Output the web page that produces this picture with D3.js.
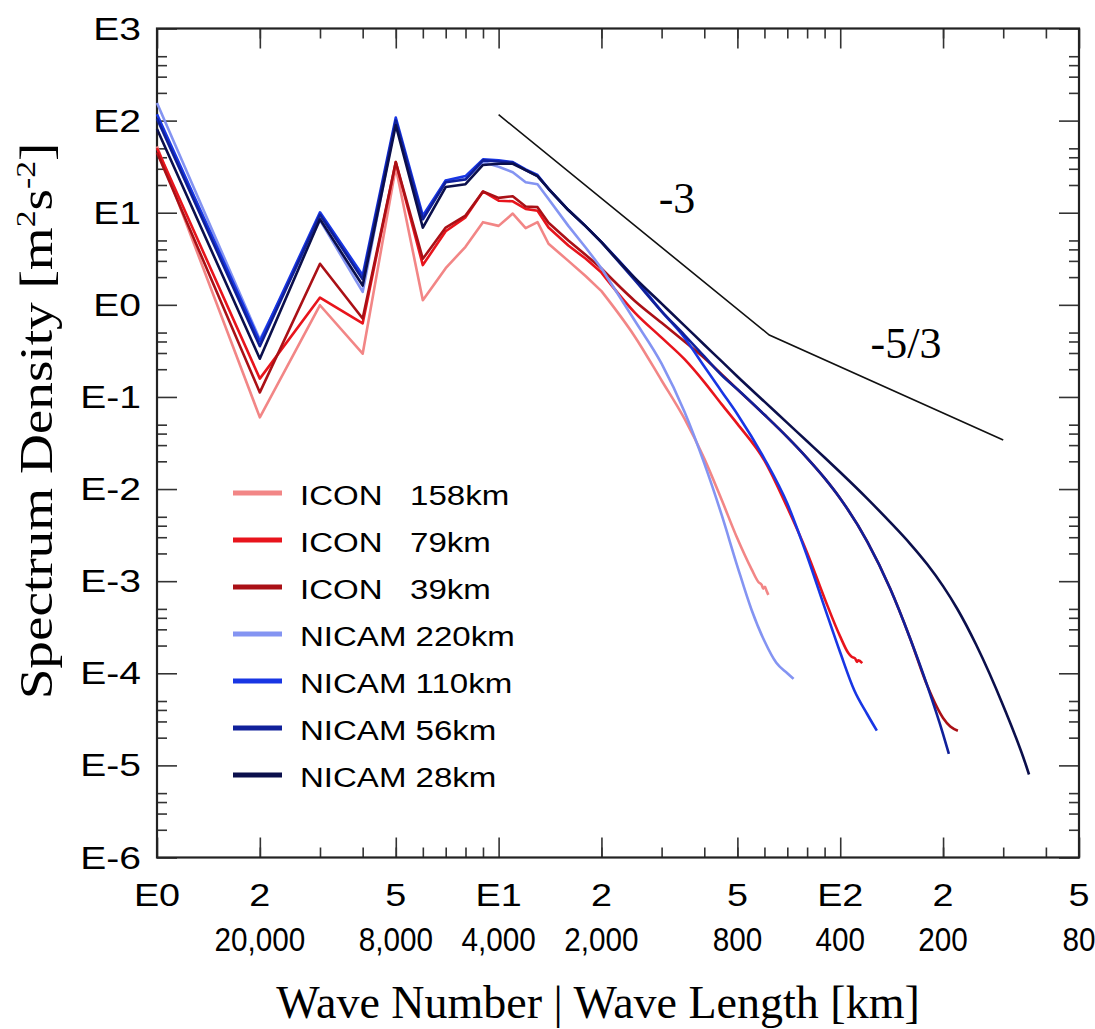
<!DOCTYPE html>
<html><head><meta charset="utf-8">
<script src="https://cdn.jsdelivr.net/npm/d3@7"></script>
<style>body{margin:0;background:#fff}</style>
</head><body>
<svg id="c" width="1095" height="1029"></svg>
<script>
// ---- data: [wave number, spectrum density] ----
const icon158 = [[1,52.5],[2,0.060],[3,0.99],[4,0.295],[5,31],[6,1.12],[7,2.5],[8,4.27],[9,7.9],[10,7.2],[11,9.8],[12,6.8],[13,7.9],[14,4.6],[16,3.0],[18,2.04],[20,1.41],[25,0.457],[30,0.151],[35,0.058],[40,0.0214],[45,0.0076],[50,0.0029],[55,0.00135],[57.6,0.00098],[58.9,0.00091],[59.5,0.00083],[60.2,0.00087],[60.9,0.00078],[61.6,0.00071]];
const icon79 = [[1,50],[2,0.158],[3,1.2],[4,0.63],[5,35.5],[6,2.7],[7,6.3],[8,8.9],[9,17],[10,13.5],[11,13.3],[12,11],[13,10.5],[14,6.9],[16,4.4],[18,3.16],[20,2.24],[25,0.83],[30,0.44],[35,0.257],[40,0.145],[45,0.083],[50,0.051],[60,0.0204],[70,0.0063],[80,0.00204],[90,0.00065],[100,0.00025],[105.6,0.000166],[108,0.000151],[110.5,0.000145],[112,0.000133],[113,0.000138],[116,0.000129]];
const icon39 = [[1,45],[2,0.112],[3,2.79],[4,0.71],[5,35.5],[6,3.16],[7,6.9],[8,9.3],[9,17],[10,14.5],[11,15.1],[12,11.7],[13,11.5],[14,7.8],[16,5.0],[18,3.47],[20,2.48],[25,1.11],[30,0.638],[35,0.399],[40,0.265],[45,0.176],[50,0.121],[60,0.064],[70,0.0366],[80,0.0217],[90,0.01315],[100,0.00791],[120,0.00269],[140,0.000832],[160,0.000242],[180,0.0000726],[200,0.0000327],[210,0.0000264],[221,0.0000238]];
const nicam220 = [[1,155],[2,0.42],[3,8.3],[4,1.38],[5,100],[6,8.5],[7,22.4],[8,23.4],[9,35.5],[10,31.6],[11,27.5],[12,21.4],[13,20.4],[14,14.1],[16,7.2],[18,4.17],[20,2.5],[25,0.68],[30,0.23],[35,0.069],[40,0.019],[45,0.0052],[50,0.00145],[55,0.00049],[60,0.000224],[65,0.00013],[70,0.0001],[73,0.000087]];
const nicam110 = [[1,117],[2,0.40],[3,10.1],[4,2.1],[5,108],[6,9.3],[7,22.4],[8,25],[9,38],[10,37],[11,35.5],[12,29.5],[13,25.7],[14,18.2],[16,10.7],[18,7.1],[20,4.8],[25,1.95],[30,0.85],[35,0.44],[40,0.214],[45,0.114],[50,0.065],[60,0.0213],[70,0.00695],[80,0.001875],[90,0.00052],[100,0.000168],[110,0.000065],[120,0.0000359],[128,0.0000238]];
const nicam56 = [[1,105],[2,0.355],[3,9.5],[4,1.9],[5,100],[6,8.5],[7,21.4],[8,22.9],[9,37],[10,36],[11,35],[12,29],[13,25],[14,18.2],[16,10.7],[18,7.1],[20,4.8],[25,1.86],[30,0.85],[35,0.47],[40,0.275],[45,0.172],[50,0.121],[60,0.064],[70,0.0366],[80,0.0217],[90,0.01315],[100,0.00791],[120,0.00269],[140,0.000832],[160,0.000242],[180,0.0000726],[200,0.0000219],[208,0.0000133]];
const nicam28 = [[1,81],[2,0.26],[3,8.5],[4,1.62],[5,89],[6,6.9],[7,19],[8,20.4],[9,33],[10,34],[11,34],[12,29],[13,25],[14,18.2],[16,10.7],[18,7.1],[20,4.8],[25,1.97],[30,1.03],[35,0.595],[40,0.369],[45,0.243],[50,0.1667],[60,0.0889],[70,0.0523],[80,0.033],[90,0.022],[100,0.0152],[120,0.00787],[140,0.00437],[160,0.00256],[180,0.001514],[200,0.000883],[220,0.000502],[250,0.000204],[300,0.0000444],[350,0.00000997],[357,0.00000796]];
const slopeLine = [[10,116],[62,0.47],[300,0.034]];

const seriesNames = ["ICON   158km","ICON   79km","ICON   39km","NICAM 220km","NICAM 110km","NICAM 56km","NICAM 28km"];
const seriesData = [icon158, icon79, icon39, nicam220, nicam110, nicam56, nicam28];
const seriesColors = ["#f28686","#e8141c","#aa1016","#8494f2","#1836e4","#10209a","#0b0f4c"];

const xTickValues = [1,2,5,10,20,50,100,200,500];
const xTickLabels = ["E0","2","5","E1","2","5","E2","2","5"];
const waveLengthTicks = [2,5,10,20,50,100,200,500];
const waveLengthLabels = ["20,000","8,000","4,000","2,000","800","400","200","80"];
const yTickValues = [1e3,1e2,1e1,1e0,1e-1,1e-2,1e-3,1e-4,1e-5,1e-6];
const yTickLabels = ["E3","E2","E1","E0","E-1","E-2","E-3","E-4","E-5","E-6"];

// ---- layout ----
const L = 157, R = 1079, T = 28.5, B = 857.5;
const svg = d3.select("#c");
const x = d3.scaleLog().domain([1,500]).range([L,R]);
const y = d3.scaleLog().domain([1e-6,1e3]).range([B,T]);
const sans = "'Liberation Sans', Arial, sans-serif";
const serif = "'Liberation Serif', 'Times New Roman', serif";

function label(px, py, str, size, family, anchor, sx){
  const g = svg.append("g").attr("transform",`translate(${px},${py}) scale(${sx},1)`);
  return g.append("text").attr("x",0).attr("y",0).attr("text-anchor",anchor)
    .attr("font-family",family).attr("font-size",size).attr("fill","#000")
    .style("white-space","pre").text(str);
}

// minor tick positions
const xMinor = [], yMinor = [];
[1,10,100].forEach(d=>{ for(let m=2;m<=9;m++){ if(d*m<500) xMinor.push(d*m);} });
[1e-6,1e-5,1e-4,1e-3,1e-2,1e-1,1,10,100].forEach(d=>{ for(let m=2;m<=5;m++) yMinor.push(d*m); });

// axes via d3 axis generators (inward ticks on all four sides)
const tc = "#333";
function styleAxis(g){ g.select(".domain").remove(); g.selectAll("line").attr("stroke",tc).attr("stroke-width",1.6); g.selectAll("text").remove(); }
svg.append("g").attr("transform",`translate(0,${B})`).call(d3.axisTop(x).tickValues(xTickValues).tickSize(20)).call(styleAxis);
svg.append("g").attr("transform",`translate(0,${B})`).call(d3.axisTop(x).tickValues(xMinor).tickSize(10)).call(styleAxis);
svg.append("g").attr("transform",`translate(0,${T})`).call(d3.axisBottom(x).tickValues(xTickValues).tickSize(20)).call(styleAxis);
svg.append("g").attr("transform",`translate(0,${T})`).call(d3.axisBottom(x).tickValues(xMinor).tickSize(10)).call(styleAxis);
svg.append("g").attr("transform",`translate(${L},0)`).call(d3.axisRight(y).tickValues(yTickValues).tickSize(20)).call(styleAxis);
svg.append("g").attr("transform",`translate(${L},0)`).call(d3.axisRight(y).tickValues(yMinor).tickSize(10)).call(styleAxis);
svg.append("g").attr("transform",`translate(${R},0)`).call(d3.axisLeft(y).tickValues(yTickValues).tickSize(20)).call(styleAxis);
svg.append("g").attr("transform",`translate(${R},0)`).call(d3.axisLeft(y).tickValues(yMinor).tickSize(10)).call(styleAxis);

// frame
svg.append("rect").attr("x",L).attr("y",T).attr("width",R-L).attr("height",B-T)
  .attr("fill","none").attr("stroke","#222").attr("stroke-width",2.2);

// tick labels
yTickValues.forEach((v,i)=> label(141, y(v)+11, yTickLabels[i], 32, sans, "end", 1.22));
xTickValues.forEach((v,i)=> label(x(v), 906, xTickLabels[i], 32, sans, "middle", 1.18));
waveLengthTicks.forEach((v,i)=> label(x(v), 951, waveLengthLabels[i], 33, sans, "middle", 0.9));

// axis titles
label(598, 1018, "Wave Number | Wave Length [km]", 46, serif, "middle", 1);
const yt = svg.append("text").attr("transform","translate(52,421) rotate(-90) scale(1.2,1)")
  .attr("text-anchor","middle").attr("font-family",serif).attr("font-size",46).attr("fill","#000");
yt.append("tspan").text("Spectrum Density [m");
yt.append("tspan").attr("font-size",28).attr("dy",-17).text("2");
yt.append("tspan").attr("dy",17).text("s");
yt.append("tspan").attr("font-size",28).attr("dy",-17).text("-2");
yt.append("tspan").attr("dy",17).text("]");

// series: low wave numbers joined straight, the resolved tail drawn smooth
const lineLin = d3.line().x(d=>x(d[0])).y(d=>y(d[1]));
const lineSmooth = d3.line().curve(d3.curveMonotoneX).x(d=>x(d[0])).y(d=>y(d[1]));
seriesData.forEach((s,i)=>{
  const head = s.filter(d=>d[0]<=20), tail = s.filter(d=>d[0]>=20);
  const p = lineLin(head) + lineSmooth(tail).replace(/^M/,"L");
  svg.append("path").attr("d",p).attr("fill","none")
    .attr("stroke",seriesColors[i]).attr("stroke-width",2.6).attr("stroke-linejoin","round");
});

// reference slope line
svg.append("path").datum(slopeLine).attr("d",lineLin).attr("fill","none").attr("stroke","#111").attr("stroke-width",1.6);
label(677, 213, "-3", 44, serif, "middle", 1);
label(906, 358, "-5/3", 44, serif, "middle", 1);

// legend
seriesNames.forEach((n,i)=>{
  const ly = 493 + i*47;
  svg.append("line").attr("x1",233).attr("x2",282).attr("y1",ly).attr("y2",ly)
    .attr("stroke",seriesColors[i]).attr("stroke-width",5);
  label(300, ly+12, n, 28, sans, "start", 1.18);
});
</script>
</body></html>
